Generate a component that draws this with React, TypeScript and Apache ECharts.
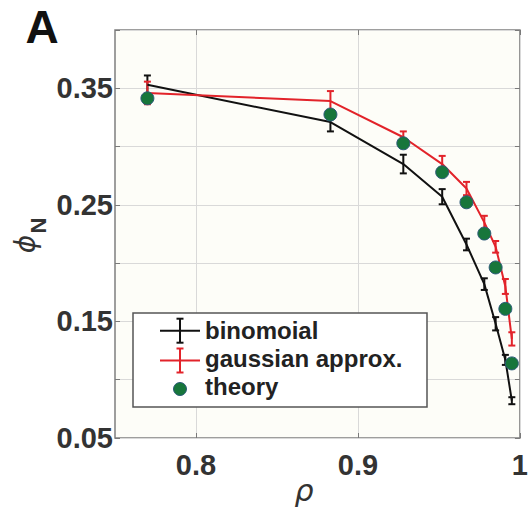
import React, { useEffect, useRef } from "react";
import * as echarts from "echarts";

const rho = [0.77, 0.883, 0.928, 0.952, 0.967, 0.978, 0.985, 0.991, 0.995];
const binomial = [0.353, 0.321, 0.285, 0.257, 0.216, 0.182, 0.148, 0.117, 0.082];
const binomialErr = [0.008, 0.008, 0.008, 0.0065, 0.005, 0.005, 0.0057, 0.0043, 0.003];
const gaussian = [0.346, 0.339, 0.308, 0.285, 0.264, 0.235, 0.214, 0.18, 0.135];
const gaussianErr = [0.0097, 0.0086, 0.005, 0.007, 0.0057, 0.0056, 0.005, 0.0064, 0.0057];
const theory = [0.3414, 0.3275, 0.3028, 0.278, 0.2522, 0.2254, 0.1963, 0.1608, 0.114];
const xTickValues = [0.8, 0.9, 1];
const yLabelValues = [0.05, 0.15, 0.25, 0.35];
const legendLabels = ["binomoial", "gaussian approx.", "theory"];

const BLACK = "#111111";
const RED = "#e2232a";
const GREEN = "#17763b";
const FONT = "'Liberation Sans', Arial, sans-serif";

function errorSeries(name: string, vals: number[], errs: number[], color: string) {
  return {
    type: "custom",
    name,
    xAxisIndex: 0,
    yAxisIndex: 0,
    data: rho.map((x, i) => [x, vals[i] - errs[i], vals[i] + errs[i]]),
    encode: { x: 0, y: [1, 2] },
    renderItem: (params: any, api: any) => {
      const x = api.value(0);
      const lo = api.coord([x, api.value(1)]);
      const hi = api.coord([x, api.value(2)]);
      const w = 3.5;
      const style = { stroke: color, lineWidth: 2 };
      return {
        type: "group",
        children: [
          { type: "line", shape: { x1: lo[0], y1: lo[1], x2: hi[0], y2: hi[1] }, style },
          { type: "line", shape: { x1: lo[0] - w, y1: lo[1], x2: lo[0] + w, y2: lo[1] }, style },
          { type: "line", shape: { x1: hi[0] - w, y1: hi[1], x2: hi[0] + w, y2: hi[1] }, style },
        ],
      };
    },
  };
}

function txt(text: string, x: number, y: number, extra: any = {}, rotation = 0) {
  return {
    type: "text",
    x,
    y,
    rotation,
    z: 100,
    style: {
      text,
      fill: "#222",
      fontFamily: FONT,
      fontWeight: "bold",
      fontSize: 24,
      align: "left",
      textAlign: "left",
      verticalAlign: "middle",
      textVerticalAlign: "middle",
      ...extra,
    },
  };
}

function errIcon(cx: number, cy: number, color: string) {
  const s = { stroke: color, lineWidth: 2 };
  return [
    { type: "line", z: 101, shape: { x1: cx - 20, y1: cy, x2: cx + 20, y2: cy }, style: s },
    { type: "line", z: 101, shape: { x1: cx, y1: cy - 12, x2: cx, y2: cy + 12 }, style: s },
    { type: "line", z: 101, shape: { x1: cx - 3.5, y1: cy - 12, x2: cx + 3.5, y2: cy - 12 }, style: s },
    { type: "line", z: 101, shape: { x1: cx - 3.5, y1: cy + 12, x2: cx + 3.5, y2: cy + 12 }, style: s },
  ];
}

export default function App() {
  const ref = useRef<HTMLDivElement>(null);
  useEffect(() => {
    if (!ref.current) return;
    const chart = echarts.init(ref.current, undefined, { renderer: "svg" });
    const tickStyle = { color: "#7a7a7a", width: 1 };
    const labelStyle = { fontSize: 29, fontWeight: "bold", color: "#333", fontFamily: FONT };
    const option: any = {
      animation: false,
      backgroundColor: "#ffffff",
      grid: {
        left: 115,
        right: 5,
        top: 30,
        bottom: 71,
        show: true,
        backgroundColor: "#fdfdf8",
        borderColor: "#7f7f7f",
        borderWidth: 1.5,
      },
      xAxis: [
        {
          type: "value",
          min: 0.75,
          max: 1,
          position: "bottom",
          axisLine: { show: false },
          axisTick: { show: true, inside: true, length: 5, customValues: xTickValues, lineStyle: tickStyle },
          axisLabel: { ...labelStyle, customValues: xTickValues, margin: 12, formatter: (v: number) => String(Math.round(v * 10) / 10) },
          splitLine: { show: true, lineStyle: { color: "#d9d9d9", width: 1 } },
        },
        {
          type: "value",
          min: 0.75,
          max: 1,
          position: "top",
          axisLine: { show: false },
          axisTick: { show: true, inside: true, length: 5, customValues: xTickValues, lineStyle: tickStyle },
          axisLabel: { show: false },
          splitLine: { show: false },
        },
      ],
      yAxis: [
        {
          type: "value",
          min: 0.05,
          max: 0.4,
          interval: 0.05,
          position: "left",
          axisLine: { show: false },
          axisTick: { show: true, inside: true, length: 5, lineStyle: tickStyle },
          axisLabel: { ...labelStyle, customValues: yLabelValues, margin: 2, formatter: (v: number) => v.toFixed(2) },
          splitLine: { show: true, lineStyle: { color: "#d9d9d9", width: 1 } },
        },
        {
          type: "value",
          min: 0.05,
          max: 0.4,
          interval: 0.05,
          position: "right",
          axisLine: { show: false },
          axisTick: { show: true, inside: true, length: 5, lineStyle: tickStyle },
          axisLabel: { show: false },
          splitLine: { show: false },
        },
      ],
      series: [
        {
          type: "line",
          name: legendLabels[0],
          data: rho.map((x, i) => [x, binomial[i]]),
          symbol: "none",
          lineStyle: { color: BLACK, width: 2 },
          itemStyle: { color: BLACK },
        },
        errorSeries("binomial err", binomial, binomialErr, BLACK),
        {
          type: "line",
          name: legendLabels[1],
          data: rho.map((x, i) => [x, gaussian[i]]),
          symbol: "none",
          lineStyle: { color: RED, width: 2 },
          itemStyle: { color: RED },
        },
        errorSeries("gaussian err", gaussian, gaussianErr, RED),
        {
          type: "scatter",
          name: legendLabels[2],
          data: rho.map((x, i) => [x, theory[i]]),
          symbolSize: 13,
          itemStyle: { color: GREEN, borderColor: "#2d5b7a", borderWidth: 1, opacity: 1 },
          z: 5,
        },
      ],
      graphic: [
        txt("A", 42, 27, { fontSize: 46, fill: "#111", align: "center", textAlign: "center" }),
        txt("\u03D5", 25, 244, { fontSize: 28, fontWeight: "normal", fontStyle: "italic", fontFamily: "'DejaVu Sans', sans-serif", fill: "#333", align: "center", textAlign: "center" }, Math.PI / 2),
        txt("N", 38.5, 225.5, { fontSize: 22, fill: "#333", align: "center", textAlign: "center" }, Math.PI / 2),
        txt("\u03C1", 304, 490, { fontSize: 30, fontWeight: "normal", fontStyle: "italic", fontFamily: "'DejaVu Sans', sans-serif", fill: "#333", align: "center", textAlign: "center" }),
        {
          type: "rect",
          z: 100,
          shape: { x: 133, y: 313, width: 294, height: 94 },
          style: { fill: "#ffffff", stroke: "#555555", lineWidth: 1.5 },
        },
        ...errIcon(180, 330.7, BLACK),
        ...errIcon(180, 360.5, RED),
        {
          type: "circle",
          z: 101,
          shape: { cx: 180, cy: 389, r: 6.5 },
          style: { fill: GREEN, stroke: "#2d5b7a", lineWidth: 1 },
        },
        txt(legendLabels[0], 205, 330.5),
        txt(legendLabels[1], 205, 358.5),
        txt(legendLabels[2], 205, 386.5),
      ],
    };
    chart.setOption(option);
    return () => chart.dispose();
  }, []);
  return (
    <div
      ref={ref}
      style={{ position: "absolute", left: 0, top: 0, width: 531, height: 509 }}
    />
  );
}
